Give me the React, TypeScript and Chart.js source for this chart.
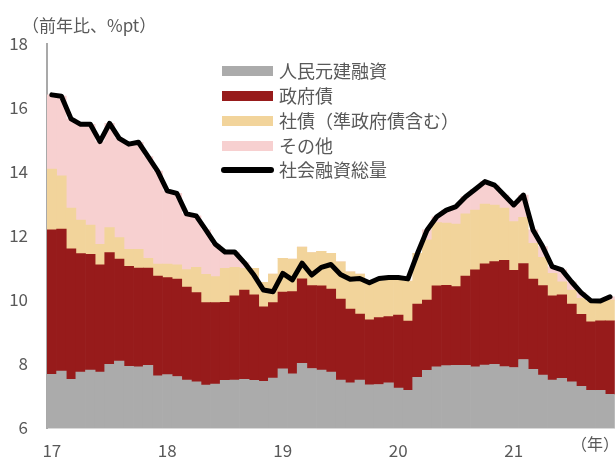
import React, { useEffect, useRef } from 'react';
import { Chart, registerables } from 'chart.js';

Chart.register(...registerables);

const yearLabels = ['17', '18', '19', '20', '21'];
const yearNums = [2017, 2018, 2019, 2020, 2021];
const monthCount = 59; // Jan 2017 .. Nov 2021
const categories: string[] = [];
for (const y of yearNums) {
  for (let m = 1; m <= 12; m++) {
    if (categories.length < monthCount) categories.push(`${y}/${m}`);
  }
}

// 人民元建融資
const loans = [
  7.68, 7.78, 7.52, 7.75, 7.81, 7.75, 7.99, 8.09, 7.93, 7.91, 7.96, 7.63,
  7.67, 7.61, 7.5, 7.44, 7.34, 7.37, 7.49, 7.5, 7.52, 7.49, 7.46, 7.56,
  7.85, 7.69, 8.02, 7.86, 7.81, 7.75, 7.5, 7.41, 7.5, 7.35, 7.36, 7.41,
  7.25, 7.18, 7.58, 7.8, 7.91, 7.95, 7.96, 7.96, 7.91, 7.97, 7.99, 7.92,
  7.89, 8.14, 7.83, 7.65, 7.5, 7.55, 7.44, 7.3, 7.18, 7.18, 7.05,
];
// 政府債
const govBonds = [
  4.51, 4.44, 4.08, 3.7, 3.62, 3.35, 3.49, 3.19, 3.12, 3.09, 3.04, 3.12,
  3.03, 3.04, 2.9, 2.79, 2.58, 2.55, 2.44, 2.63, 2.79, 2.67, 2.33, 2.36,
  2.4, 2.57, 2.64, 2.59, 2.63, 2.59, 2.53, 2.31, 2.06, 2.03, 2.09, 2.07,
  2.28, 2.16, 2.29, 2.2, 2.53, 2.51, 2.46, 2.79, 3.03, 3.16, 3.21, 3.32,
  3.04, 3.0, 2.82, 2.8, 2.63, 2.61, 2.43, 2.25, 2.14, 2.17, 2.3,
];
// 社債（準政府債含む）
const corpBonds = [
  1.9, 1.66, 1.27, 1.05, 0.91, 0.64, 0.78, 0.67, 0.53, 0.58, 0.3, 0.37,
  0.42, 0.45, 0.55, 0.79, 0.88, 0.81, 1.06, 0.89, 0.68, 0.83, 0.76, 0.89,
  1.05, 1.02, 0.99, 1.03, 1.08, 1.12, 1.16, 1.16, 1.25, 1.19, 1.15, 1.14,
  1.1, 1.25, 1.59, 1.88, 1.98, 1.94, 1.95, 1.94, 1.87, 1.87, 1.77, 1.63,
  1.52, 1.44, 1.12, 0.88, 0.7, 0.41, 0.44, 0.5, 0.63, 0.6, 0.65,
];
// その他
const others = [
  2.32, 2.49, 2.79, 2.99, 3.15, 3.21, 3.26, 3.1, 3.29, 3.35, 3.18, 2.91,
  2.29, 2.23, 1.74, 1.61, 1.39, 1.01, 0.51, 0.48, 0.18, 0, 0, 0,
  0, 0, 0, 0, 0, 0, 0, 0, 0, 0, 0, 0,
  0, 0, 0, 0.31, 0.18, 0.41, 0.55, 0.54, 0.65, 0.7, 0.62, 0.41,
  0.52, 0.7, 0.42, 0.34, 0.21, 0.37, 0.26, 0.18, 0, 0, 0.1,
];
// 社会融資総量
const totalFinancing = [
  16.41, 16.37, 15.66, 15.49, 15.49, 14.95, 15.52, 15.05, 14.87, 14.93, 14.48, 14.03,
  13.41, 13.33, 12.69, 12.63, 12.19, 11.74, 11.5, 11.5, 11.17, 10.78, 10.31, 10.26,
  10.83, 10.63, 11.15, 10.78, 11.02, 11.11, 10.8, 10.65, 10.67, 10.54, 10.67, 10.7,
  10.7, 10.66, 11.46, 12.19, 12.6, 12.81, 12.92, 13.23, 13.46, 13.7, 13.59, 13.28,
  12.97, 13.28, 12.19, 11.67, 11.04, 10.94, 10.57, 10.23, 9.98, 9.97, 10.1,
];

const seriesNames = ['人民元建融資', '政府債', '社債（準政府債含む）', 'その他', '社会融資総量'];
const seriesColors = ['#ababab', '#971b1b', '#f2d49b', '#f7d0d0', '#000000'];
const titleText = '（前年比、%pt）';
const unitText = '（年）';
const yTicks = [6, 8, 10, 12, 14, 16, 18];

const FONT = "'Noto Sans CJK JP', 'Noto Sans', sans-serif";
const TEXT_COLOR = '#595959';

export default function App() {
  const ref = useRef<HTMLCanvasElement | null>(null);

  useEffect(() => {
    document.body.style.margin = '0';
    document.body.style.overflow = 'hidden';
    const canvas = ref.current!;
    const overlay = {
      id: 'overlay',
      afterDraw(chart: any) {
        const ctx = chart.ctx;
        ctx.save();
        ctx.fillStyle = TEXT_COLOR;
        ctx.font = `17px ${FONT}`;
        ctx.textBaseline = 'middle';
        ctx.textAlign = 'left';
        ctx.fillText(titleText, 22, 26);
        ctx.font = `16px ${FONT}`;
        ctx.textAlign = 'center';
        ctx.fillText(unitText, 595, 444);
        // legend
        const x0 = 222;
        const sw = 51;
        const rows = [71, 96, 121, 146, 170];
        ctx.textAlign = 'left';
        ctx.font = `18px ${FONT}`;
        seriesNames.forEach((name, i) => {
          const y = rows[i];
          if (i < 4) {
            ctx.fillStyle = seriesColors[i];
            ctx.fillRect(x0, y - 5, sw, 10);
          } else {
            ctx.strokeStyle = seriesColors[i];
            ctx.lineWidth = 6;
            ctx.lineCap = 'round';
            ctx.beginPath();
            ctx.moveTo(x0 + 2, y);
            ctx.lineTo(x0 + sw - 2, y);
            ctx.stroke();
          }
          ctx.fillStyle = TEXT_COLOR;
          ctx.fillText(name, 279, y);
        });
        ctx.restore();
      },
    };

    const barData = [loans, govBonds, corpBonds, others];
    const chart = new Chart(canvas, {
      data: {
        labels: categories,
        datasets: [
          {
            type: 'line',
            label: seriesNames[4],
            data: totalFinancing,
            borderColor: seriesColors[4],
            borderWidth: 5,
            pointRadius: 0,
            tension: 0,
            borderCapStyle: 'round',
            borderJoinStyle: 'round',
            stack: 'line',
            order: 0,
          } as any,
          ...barData.map((d, i) => ({
            type: 'bar' as const,
            label: seriesNames[i],
            data: d,
            backgroundColor: seriesColors[i],
            borderWidth: 0,
            barPercentage: 1,
            categoryPercentage: 1,
            stack: 'bars',
            order: 1,
          })),
        ],
      },
      options: {
        animation: false,
        responsive: false,
        devicePixelRatio: 1,
        layout: { padding: { top: 44, left: 0, right: 0, bottom: 0 } },
        plugins: { legend: { display: false }, tooltip: { enabled: false } },
        scales: {
          x: {
            stacked: true,
            offset: true,
            grid: { display: false, drawTicks: false },
            border: { display: true, color: '#d9d9d9', width: 1 },
            ticks: {
              autoSkip: false,
              maxRotation: 0,
              padding: 12,
              color: TEXT_COLOR,
              font: { family: FONT, size: 17 },
              callback: (_v: any, idx: number) => (idx % 12 === 0 ? yearLabels[idx / 12] : ''),
            },
            afterFit: (s: any) => {
              s.height = 31;
            },
          },
          y: {
            stacked: true,
            min: 6,
            max: 18,
            afterBuildTicks: (s: any) => {
              s.ticks = yTicks.map((v) => ({ value: v }));
            },
            grid: { display: false, drawTicks: false },
            border: { display: true, color: '#a9a9a9', width: 2 },
            ticks: {
              padding: 19,
              color: TEXT_COLOR,
              font: { family: FONT, size: 17 },
            },
            afterFit: (s: any) => {
              s.width = 47;
            },
          },
        },
      },
      plugins: [overlay],
    });
    return () => chart.destroy();
  }, []);

  return (
    <div style={{ position: 'absolute', left: 0, top: 0, width: 616, height: 459, overflow: 'hidden', background: '#fff' }}>
      <canvas ref={ref} width={622} height={459} style={{ width: 622, height: 459, display: 'block' }} />
    </div>
  );
}
